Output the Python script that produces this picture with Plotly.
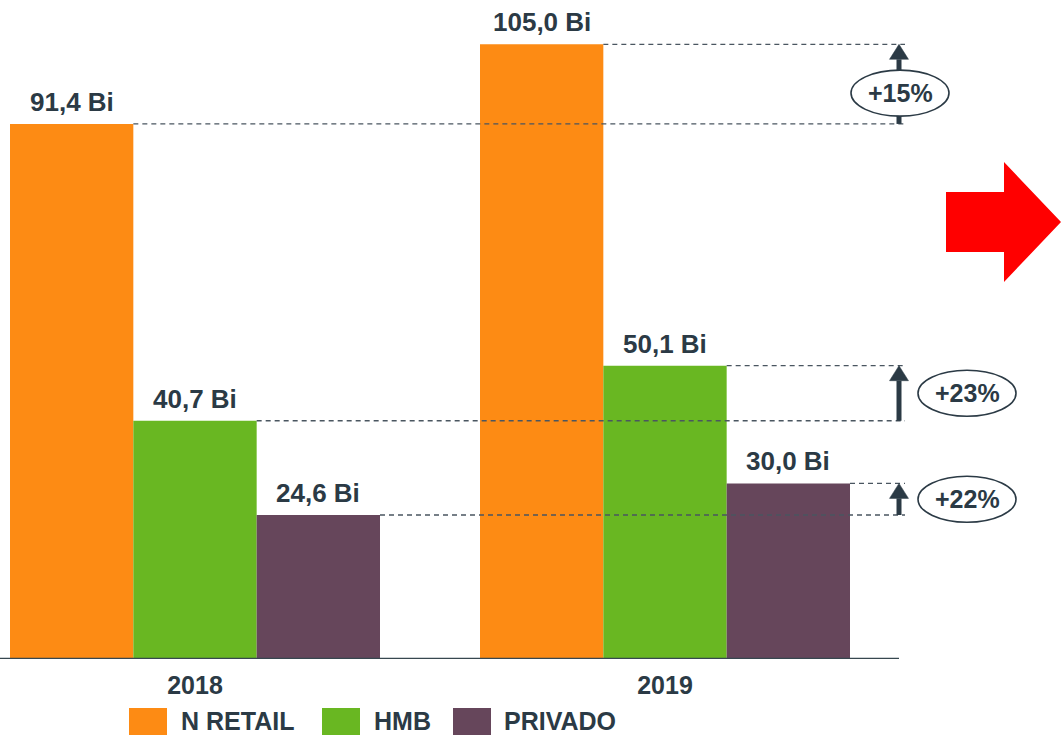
import plotly.graph_objects as go

# ---------------- data ----------------
years = ["2018", "2019"]
series_names = ["N RETAIL", "HMB", "PRIVADO"]
v_nretail = [91.4, 105.0]
v_hmb = [40.7, 50.1]
v_privado = [24.6, 30.0]
growth_labels = ["+15%", "+23%", "+22%"]

series_values = [v_nretail, v_hmb, v_privado]
colors = ["#FD8B14", "#69B722", "#66465B"]
TEXT = "#2B3A45"
FONT = "Liberation Sans, Arial, sans-serif"

W, H = 1061, 735
MB = 76                      # bottom margin -> plot area height 659
PH = H - MB
X0, XS = 195.0, 470.0        # px of category 0, px per category unit
YMAX = 112.57
YS = PH / YMAX               # px per value unit


def xpx(p):
    return (p - X0) / XS


def ydist(d):
    return d / YS


def paper_x(p):
    return p / W


def paper_y(p):
    return (PH - p) / PH


group_w = 370.0 / XS
bar_w = group_w / 3

fig = go.Figure()
for name, vals, col in zip(series_names, series_values, colors):
    fig.add_bar(x=years, y=vals, name=name, marker=dict(color=col, line=dict(width=0)),
                showlegend=False, hoverinfo="skip")

annotations = []
shapes = []

# axis baseline
shapes.append(dict(type="line", xref="paper", yref="y", x0=0, x1=paper_x(899), y0=0, y1=0,
                   line=dict(color="#37474F", width=2.5), layer="above"))

# value labels above bars
for k, vals in enumerate(series_values):
    for i, v in enumerate(vals):
        annotations.append(dict(
            x=i + (k - 1) * bar_w, y=v, xref="x", yref="y",
            text=f"{v:.1f}".replace(".", ",") + " Bi", showarrow=False,
            yanchor="bottom", xanchor="center", yshift=5,
            font=dict(family=FONT, size=26, color=TEXT, weight="bold")))

# dashed reference lines from right edge of each bar
line_end = xpx(905)
for k, vals in enumerate(series_values):
    for i, v in enumerate(vals):
        right = i + (k - 1) * bar_w + bar_w / 2
        shapes.append(dict(type="line", xref="x", yref="y", x0=right, x1=line_end, y0=v, y1=v,
                           line=dict(color="#4A5660", width=1.3, dash="5px,4px")))

# growth arrows + ellipse labels
ax = xpx(899)
head_h = ydist(15)
head_hw = 9.5 / XS
ell_cx = [900, 967, 967]
ell_dy = [9, 0, 0]
for k, vals in enumerate(series_values):
    lo, hi = vals[0], vals[1]
    shapes.append(dict(type="line", xref="x", yref="y", x0=ax, x1=ax, y0=lo, y1=hi - head_h,
                       line=dict(color=TEXT, width=5)))
    shapes.append(dict(type="path", xref="x", yref="y",
                       path=f"M {ax - head_hw} {hi - head_h} L {ax + head_hw} {hi - head_h} L {ax} {hi} Z",
                       fillcolor=TEXT, line=dict(color=TEXT, width=0.5)))
    cy = (lo + hi) / 2 - ydist(ell_dy[k])
    cx = xpx(ell_cx[k])
    shapes.append(dict(type="circle", xref="x", yref="y",
                       x0=cx - 49 / XS, x1=cx + 49 / XS, y0=cy - ydist(23), y1=cy + ydist(23),
                       fillcolor="white", line=dict(color=TEXT, width=1.6)))
    annotations.append(dict(x=cx, y=cy, xref="x", yref="y", text=growth_labels[k], showarrow=False,
                            xanchor="center", yanchor="middle",
                            font=dict(family=FONT, size=25, color=TEXT, weight="bold")))

# red arrow (decorative)
pts = [(946, 192), (1004, 192), (1004, 162), (1061, 222), (1004, 282), (1004, 252), (946, 252)]
path = "M " + " L ".join(f"{paper_x(px)} {paper_y(py)}" for px, py in pts) + " Z"
shapes.append(dict(type="path", xref="paper", yref="paper", path=path,
                   fillcolor="#FF0000", line=dict(color="#FF0000", width=0)))

# manual legend
leg_sq_x = [129, 322, 453]
leg_txt_x = [179, 372, 502]
for k, name in enumerate(series_names):
    shapes.append(dict(type="rect", xref="paper", yref="paper",
                       x0=paper_x(leg_sq_x[k]), x1=paper_x(leg_sq_x[k] + 38),
                       y0=paper_y(708), y1=paper_y(740),
                       fillcolor=colors[k], line=dict(width=0)))
    annotations.append(dict(x=paper_x(leg_txt_x[k]), y=paper_y(721), xref="paper", yref="paper",
                            text=name, showarrow=False, xanchor="left", yanchor="middle",
                            font=dict(family=FONT, size=25, color=TEXT, weight="bold")))

fig.update_layout(
    width=W, height=H,
    margin=dict(l=0, r=0, t=0, b=MB, pad=0),
    paper_bgcolor="white", plot_bgcolor="white",
    barmode="group", bargap=1 - group_w, bargroupgap=0,
    showlegend=False,
    xaxis=dict(type="category", range=[xpx(0), xpx(W)], showline=False, showgrid=False,
               zeroline=False, ticks="", ticklabelstandoff=9,
               tickfont=dict(family=FONT, size=25, color=TEXT, weight="bold")),
    yaxis=dict(range=[0, YMAX], visible=False, showgrid=False, zeroline=False),
    shapes=shapes, annotations=annotations,
)

fig.write_html("out.html", config={"displayModeBar": False},
               post_script="document.body.style.margin='0';document.body.style.overflow='hidden';")
